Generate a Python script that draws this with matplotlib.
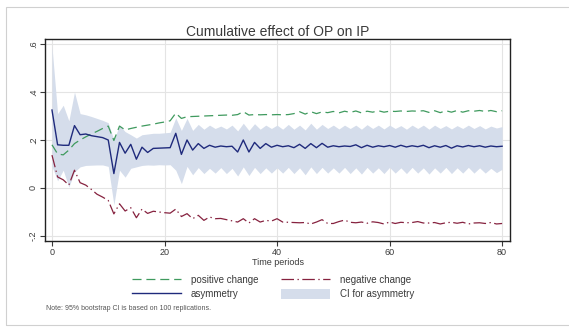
#!/usr/bin/env python3
"""
Cumulative effect of OP on IP - asymmetric dynamic multipliers with
bootstrap CI for the asymmetry line. Saves out.png (569x327).
"""

import numpy as np
import matplotlib
matplotlib.use("Agg")
import matplotlib.pyplot as plt
from matplotlib.patches import Rectangle

matplotlib.rcParams.update({
    "font.family": ["Liberation Sans", "DejaVu Sans"],
    "lines.scale_dashes": False,
})

# ─────────────────────────────────────────────────────────────────────────────
PERIODS = list(range(0, 81))

ASYMMETRY = [
    0.325, 0.180, 0.178, 0.178, 0.260, 0.222, 0.225, 0.218, 0.214, 0.210,
    0.200, 0.060, 0.190, 0.145, 0.182, 0.120, 0.170, 0.148, 0.165, 0.166,
    0.167, 0.168, 0.228, 0.140, 0.200, 0.158, 0.185, 0.165, 0.178, 0.170,
    0.175, 0.172, 0.174, 0.150, 0.200, 0.150, 0.190, 0.165, 0.185, 0.170,
    0.178, 0.172, 0.176, 0.168, 0.182, 0.165, 0.185, 0.168, 0.186, 0.170,
    0.176, 0.172, 0.175, 0.173, 0.180, 0.168, 0.178, 0.170, 0.176, 0.172,
    0.177, 0.170, 0.178, 0.171, 0.176, 0.172, 0.178, 0.168, 0.176, 0.170,
    0.177, 0.166, 0.176, 0.171, 0.177, 0.172, 0.176, 0.170, 0.175, 0.172,
    0.174,
]

POSITIVE = [
    0.180, 0.142, 0.138, 0.158, 0.185, 0.200, 0.213, 0.225, 0.236, 0.248,
    0.258, 0.198, 0.258, 0.242, 0.248, 0.253, 0.258, 0.262, 0.266, 0.271,
    0.275, 0.280, 0.312, 0.290, 0.297, 0.298, 0.299, 0.300, 0.301, 0.302,
    0.303, 0.304, 0.303, 0.306, 0.318, 0.304, 0.306, 0.305, 0.306, 0.305,
    0.306, 0.305, 0.306, 0.310, 0.318, 0.308, 0.318, 0.310, 0.317, 0.314,
    0.319, 0.313, 0.320, 0.315, 0.321, 0.313, 0.320, 0.316, 0.322, 0.316,
    0.320, 0.319, 0.321, 0.319, 0.321, 0.320, 0.322, 0.315, 0.322, 0.314,
    0.322, 0.316, 0.323, 0.316, 0.322, 0.320, 0.323, 0.319, 0.323, 0.318,
    0.322,
]

NEGATIVE = [
    0.137, 0.046, 0.034, 0.012, 0.074, 0.022, 0.012, -0.006, -0.026, -0.038,
    -0.052, -0.108, -0.066, -0.096, -0.082, -0.124, -0.088, -0.106, -0.097, -0.100,
    -0.103, -0.105, -0.088, -0.119, -0.107, -0.128, -0.114, -0.135, -0.121, -0.128,
    -0.127, -0.132, -0.137, -0.142, -0.128, -0.146, -0.128, -0.142, -0.135, -0.138,
    -0.128, -0.142, -0.143, -0.144, -0.145, -0.144, -0.150, -0.142, -0.132, -0.148,
    -0.148, -0.140, -0.134, -0.143, -0.145, -0.142, -0.147, -0.141, -0.144, -0.150,
    -0.142, -0.148, -0.143, -0.145, -0.144, -0.140, -0.146, -0.146, -0.144, -0.150,
    -0.145, -0.143, -0.147, -0.143, -0.150, -0.146, -0.145, -0.148, -0.144, -0.150,
    -0.148,
]

CI_UPPER = [
    0.590, 0.310, 0.345, 0.280, 0.400, 0.310, 0.305, 0.298, 0.290, 0.282,
    0.272, 0.200, 0.262, 0.235, 0.222, 0.208, 0.222, 0.225, 0.228, 0.228,
    0.230, 0.232, 0.292, 0.240, 0.290, 0.240, 0.265, 0.245, 0.262, 0.248,
    0.258, 0.246, 0.262, 0.238, 0.270, 0.240, 0.268, 0.245, 0.262, 0.248,
    0.262, 0.245, 0.265, 0.245, 0.262, 0.242, 0.270, 0.245, 0.265, 0.248,
    0.262, 0.246, 0.262, 0.248, 0.262, 0.245, 0.264, 0.248, 0.262, 0.246,
    0.262, 0.248, 0.260, 0.245, 0.262, 0.248, 0.262, 0.245, 0.262, 0.248,
    0.260, 0.246, 0.260, 0.248, 0.262, 0.248, 0.260, 0.246, 0.258, 0.250,
    0.256,
]

CI_LOWER = [
    0.090, 0.030, 0.074, 0.004, 0.067, 0.088, 0.094, 0.095, 0.096, 0.096,
    0.090, -0.070, 0.074, 0.045, 0.082, 0.088, 0.094, 0.096, 0.095, 0.097,
    0.096, 0.097, 0.074, 0.018, 0.090, 0.055, 0.085, 0.060, 0.082, 0.062,
    0.085, 0.060, 0.082, 0.050, 0.088, 0.052, 0.086, 0.060, 0.084, 0.062,
    0.084, 0.062, 0.086, 0.060, 0.084, 0.055, 0.088, 0.060, 0.086, 0.062,
    0.084, 0.062, 0.086, 0.060, 0.084, 0.058, 0.086, 0.062, 0.084, 0.060,
    0.086, 0.062, 0.084, 0.060, 0.086, 0.062, 0.084, 0.058, 0.084, 0.062,
    0.086, 0.060, 0.084, 0.062, 0.086, 0.062, 0.084, 0.062, 0.082, 0.064,
    0.078,
]

X_TICKS = [0, 20, 40, 60, 80]
Y_TICKS = [-0.2, 0.0, 0.2, 0.4, 0.6]
Y_TICK_LABELS = ["-.2", "0", ".2", ".4", ".6"]

C_POS  = "#3f9a5e"
C_NEG  = "#86223f"
C_ASYM = "#1f2a7c"
C_CI   = "#d5ddeb"
C_TEXT = "#3a3a3a"
# ─────────────────────────────────────────────────────────────────────────────


def main() -> None:
    fig = plt.figure(figsize=(5.69, 3.27), dpi=100)
    fig.patch.set_facecolor("white")
    # light outer frame like the Stata graph region
    fig.patches.append(Rectangle((6 / 569, 2 / 327), 1.0, 1 - 9 / 327,
                                 transform=fig.transFigure, fill=False,
                                 edgecolor="#d0d0d0", linewidth=0.8))

    ax = fig.add_axes([45 / 569, 1 - 241 / 327, 465 / 569, 202 / 327])

    x = np.array(PERIODS)
    ci = ax.fill_between(x, CI_LOWER, CI_UPPER, color=C_CI, linewidth=0,
                         label="CI for asymmetry", zorder=1)
    pos, = ax.plot(x, POSITIVE, color=C_POS, linewidth=0.9,
                   linestyle=(0, (6.5, 3.5)), label="positive change", zorder=3)
    neg, = ax.plot(x, NEGATIVE, color=C_NEG, linewidth=0.9,
                   linestyle=(0, (9, 2.5, 1, 2.5)), label="negative change", zorder=3)
    asym, = ax.plot(x, ASYMMETRY, color=C_ASYM, linewidth=1.0,
                    label="asymmetry", zorder=4)

    ax.set_xlim(-1.24, 81.4)
    ax.set_ylim(-0.221, 0.621)
    ax.set_xticks(X_TICKS)
    ax.set_xticklabels([str(t) for t in X_TICKS])
    ax.set_yticks(Y_TICKS)
    ax.set_yticklabels(Y_TICK_LABELS, rotation=90, va="center")
    ax.tick_params(labelsize=6.5, length=3.5, width=0.8, colors=C_TEXT, pad=1.5)
    ax.grid(True, color="#e4e4e4", linewidth=0.8, zorder=0)
    ax.set_axisbelow(True)
    for s in ax.spines.values():
        s.set_color("#222222")
        s.set_linewidth(1.0)

    ax.set_xlabel("Time periods", fontsize=6.5, color=C_TEXT, labelpad=0.5)
    ax.set_title("Cumulative effect of OP on IP", fontsize=10, color=C_TEXT, pad=2.5)

    fig.legend([pos, asym, neg, ci],
               ["positive change", "asymmetry", "negative change", "CI for asymmetry"],
               ncol=2, loc="center", bbox_to_anchor=(0.48, 0.122),
               frameon=False, fontsize=7, handlelength=5.0, handleheight=1.2,
               handletextpad=1.0, columnspacing=2.4, labelspacing=0.4,
               borderaxespad=0, labelcolor=C_TEXT)

    fig.text(46 / 569, 1 - 308 / 327,
             "Note: 95% bootstrap CI is based on 100 replications.",
             fontsize=5, color="#555555", va="center")

    fig.savefig("out.png", dpi=100)
    plt.close(fig)


if __name__ == "__main__":
    main()
